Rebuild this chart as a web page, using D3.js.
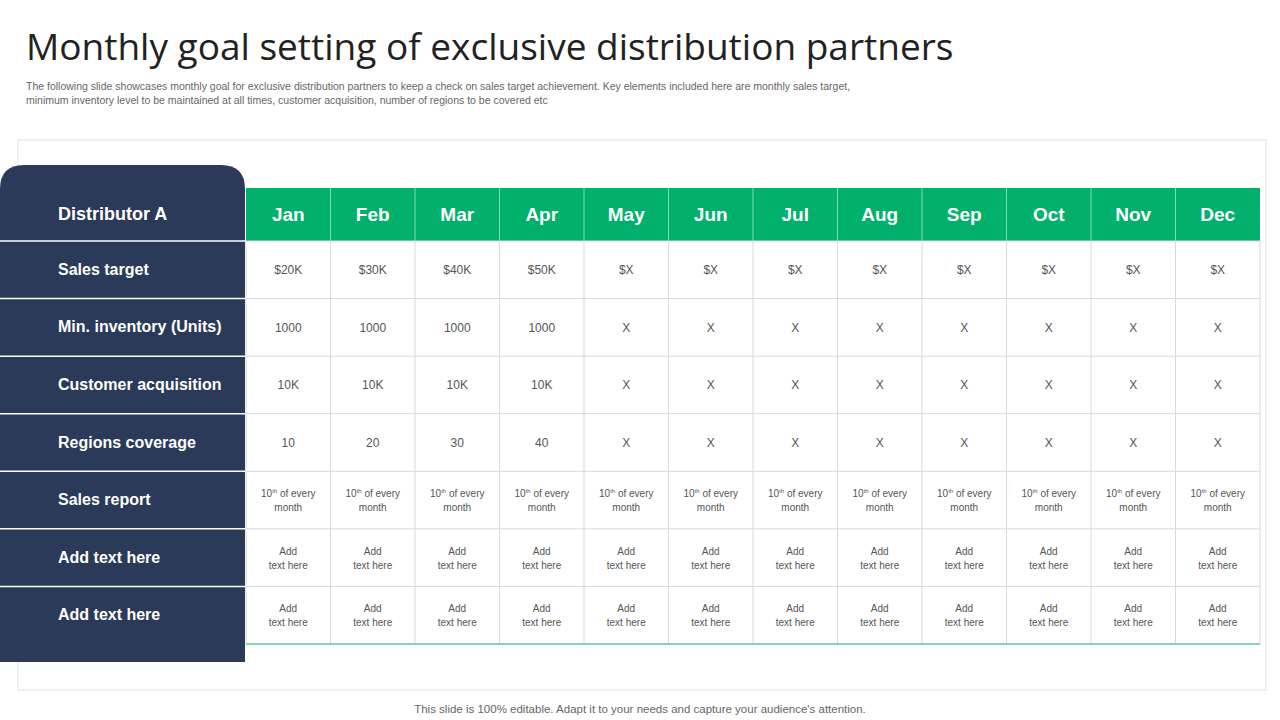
<!DOCTYPE html>
<html><head><meta charset="utf-8">
<script src="https://cdn.jsdelivr.net/npm/d3@7"></script>
<style>body{margin:0;background:#fff;font-family:Arial,"Liberation Sans",sans-serif}</style>
</head><body><svg id="c" width="1280" height="720"></svg>
<script>
const months = ["Jan","Feb","Mar","Apr","May","Jun","Jul","Aug","Sep","Oct","Nov","Dec"];
const rowLabels = ["Sales target","Min. inventory (Units)","Customer acquisition","Regions coverage","Sales report","Add text here","Add text here"];
const salesTarget = ["$20K","$30K","$40K","$50K","$X","$X","$X","$X","$X","$X","$X","$X"];
const minInventory = ["1000","1000","1000","1000","X","X","X","X","X","X","X","X"];
const customerAcq = ["10K","10K","10K","10K","X","X","X","X","X","X","X","X"];
const regions = ["10","20","30","40","X","X","X","X","X","X","X","X"];
const salesReport = months.map(() => "report");
const addText = months.map(() => "add");
const rows = [salesTarget, minInventory, customerAcq, regions, salesReport, addText, addText];

const svg = d3.select("#c");
const navy = "#2b3a58", green = "#00b06b";

// title
svg.append("text").attr("x", 26).attr("y", 60).attr("font-size", 37).attr("fill", "#222")
  .attr("font-family", "'Open Sans',Arial,sans-serif").text("Monthly goal setting of exclusive distribution partners");
svg.append("text").attr("x", 26).attr("y", 90).attr("font-size", 10.5).attr("fill", "#666")
  .text("The following slide showcases monthly goal for exclusive distribution partners to keep a check on sales target achievement. Key elements included here are monthly sales target,");
svg.append("text").attr("x", 26).attr("y", 104).attr("font-size", 10.5).attr("fill", "#666")
  .text("minimum inventory level to be maintained at all times, customer acquisition, number of regions to be covered etc");

// card
svg.append("rect").attr("x", 18).attr("y", 140).attr("width", 1248).attr("height", 550)
  .attr("fill", "#fff").attr("stroke", "#f0f0f0").attr("stroke-width", 2);

const x = d3.scaleBand().domain(d3.range(12)).range([246, 1260]);
const y = d3.scaleBand().domain(d3.range(rows.length)).range([241, 644]);
const headTop = 188;

// left panel with rounded top-right corner
const r = 24, pl = 0, pr = 245, pt = 165, pb = 662;
svg.append("path").attr("fill", navy)
  .attr("d", `M${pl},${pt+r} Q${pl},${pt} ${pl+r},${pt} L${pr-r},${pt} Q${pr},${pt} ${pr},${pt+r} L${pr},${pb} L${pl},${pb} Z`);
svg.append("text").attr("x", 58).attr("y", 220).attr("fill", "#fff").attr("font-size", 18)
  .attr("font-weight", "bold").text("Distributor  A");
rows.forEach((_, i) => {
  svg.append("line").attr("x1", 0).attr("x2", pr).attr("y1", y(i)).attr("y2", y(i))
    .attr("stroke", "#fff").attr("stroke-width", 1.5);
  svg.append("text").attr("x", 58).attr("y", y(i) + y.bandwidth() / 2 + 5 - (i >= 5 ? 0 : 0))
    .attr("fill", "#fff").attr("font-size", 16).attr("font-weight", "bold").text(rowLabels[i]);
});

// header
svg.append("rect").attr("x", 246).attr("y", headTop).attr("width", 1014).attr("height", 241 - headTop).attr("fill", green);
months.forEach((m, j) => {
  if (j > 0) svg.append("line").attr("x1", x(j)).attr("x2", x(j)).attr("y1", headTop).attr("y2", 241).attr("stroke", "#7fd9b3");
  svg.append("text").attr("x", x(j) + x.bandwidth() / 2).attr("y", 221).attr("text-anchor", "middle")
    .attr("fill", "#fff").attr("font-size", 19).attr("font-weight", "bold").text(m);
});

// grid
const g = svg.append("g").attr("stroke", "#d9d9d9");
d3.range(13).forEach(j => {
  const xx = j === 12 ? 1260 : x(j);
  g.append("line").attr("x1", xx).attr("x2", xx).attr("y1", 241).attr("y2", 644);
});
d3.range(rows.length).forEach(i => {
  g.append("line").attr("x1", 246).attr("x2", 1260).attr("y1", y(i)).attr("y2", y(i));
});
svg.append("line").attr("x1", 246).attr("x2", 1260).attr("y1", 644).attr("y2", 644).attr("stroke", "#5cc8a0").attr("stroke-width", 1.5);

// cells
rows.forEach((vals, i) => {
  vals.forEach((v, j) => {
    const cx = x(j) + x.bandwidth() / 2, cy = y(i) + y.bandwidth() / 2;
    const t = svg.append("text").attr("x", cx).attr("text-anchor", "middle").attr("fill", "#555");
    if (v === "report") {
      t.attr("y", cy - 3).attr("font-size", 10);
      t.append("tspan").text("10");
      t.append("tspan").attr("font-size", 6).attr("dy", -4).text("th");
      t.append("tspan").attr("dy", 4).text(" of every");
      svg.append("text").attr("x", cx).attr("y", cy + 11).attr("text-anchor", "middle").attr("fill", "#555")
        .attr("font-size", 10).text("month");
    } else if (v === "add") {
      t.attr("y", cy - 3).attr("font-size", 10).text("Add");
      svg.append("text").attr("x", cx).attr("y", cy + 11).attr("text-anchor", "middle").attr("fill", "#555")
        .attr("font-size", 10).text("text here");
    } else {
      t.attr("y", y(i) + 33).attr("font-size", 12).text(v);
    }
  });
});

svg.append("text").attr("x", 640).attr("y", 713).attr("text-anchor", "middle").attr("font-size", 11.5)
  .attr("fill", "#666").text("This slide is 100% editable. Adapt it to your needs and capture your audience's attention.");
</script></body></html>
